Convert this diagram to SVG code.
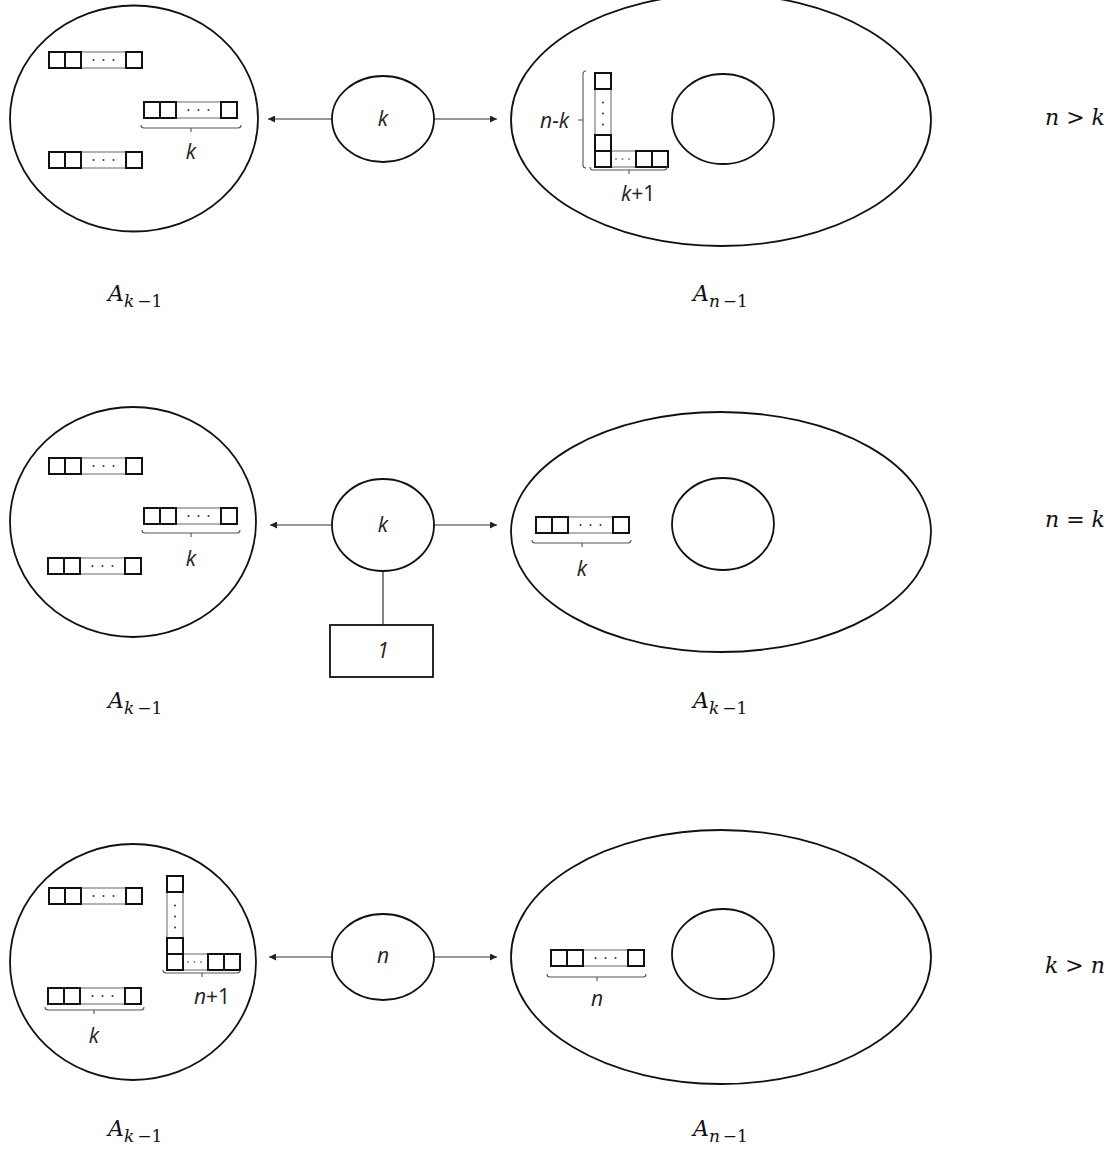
<svg xmlns="http://www.w3.org/2000/svg" xmlns:xlink="http://www.w3.org/1999/xlink" width="1120" height="1151" viewBox="0 0 1120 1151">
<style>
.big{fill:none;stroke:#111;stroke-width:1.8}
.sq{fill:none;stroke:#111;stroke-width:2}
.thin{fill:none;stroke:#666;stroke-width:1}
.dot{fill:#333}
.brace{fill:none;stroke:#555;stroke-width:1.1}
.conn{fill:none;stroke:#333;stroke-width:1.2}
.lbl{font-family:"Open Sans","DejaVu Sans",sans-serif;font-size:21px;fill:#222}
.it{font-style:italic}
.m{font-family:"DejaVu Serif","Liberation Serif",serif;font-size:22px;font-style:italic;fill:#111}
.up{font-style:normal}
</style>
<defs>
<marker id="ah" markerUnits="userSpaceOnUse" markerWidth="9" markerHeight="7" viewBox="0 0 10 10" refX="10" refY="5" orient="auto">
<path d="M0,0 L10,5 L0,10 z" fill="#222"/>
</marker>
<g id="bar">
<rect x="32" y="0" width="45" height="16" class="thin"/>
<rect x="0" y="0" width="16" height="16" class="sq"/>
<rect x="16" y="0" width="16" height="16" class="sq"/>
<rect x="77" y="0" width="16" height="16" class="sq"/>
<circle cx="44.5" cy="8" r="1" class="dot"/>
<circle cx="54.5" cy="8" r="1" class="dot"/>
<circle cx="64.5" cy="8" r="1" class="dot"/>
</g>
<g id="ell">
<rect x="0" y="16" width="16" height="46" class="thin"/>
<rect x="16" y="78" width="25" height="16" class="thin"/>
<rect x="0" y="0" width="16" height="16" class="sq"/>
<rect x="0" y="62" width="16" height="16" class="sq"/>
<rect x="0" y="78" width="16" height="16" class="sq"/>
<rect x="41" y="78" width="16" height="16" class="sq"/>
<rect x="57" y="78" width="16" height="16" class="sq"/>
<circle cx="8" cy="29.5" r="1" class="dot"/>
<circle cx="8" cy="40.5" r="1" class="dot"/>
<circle cx="8" cy="51.5" r="1" class="dot"/>
<circle cx="21" cy="86" r="0.8" class="dot"/>
<circle cx="27.5" cy="86" r="0.8" class="dot"/>
<circle cx="34" cy="86" r="0.8" class="dot"/>
</g>
</defs>

<g id="connectors">
<line x1="332" y1="119" x2="268" y2="119" class="conn" marker-end="url(#ah)"/>
<line x1="434" y1="119" x2="497" y2="119" class="conn" marker-end="url(#ah)"/>
<line x1="331" y1="525" x2="270" y2="525" class="conn" marker-end="url(#ah)"/>
<line x1="433" y1="525" x2="497" y2="525" class="conn" marker-end="url(#ah)"/>
<line x1="383" y1="571" x2="383" y2="625" class="conn"/>
<line x1="332" y1="957" x2="269" y2="957" class="conn" marker-end="url(#ah)"/>
<line x1="434" y1="957" x2="497" y2="957" class="conn" marker-end="url(#ah)"/>
</g>

<!-- Row 1 -->
<g id="r1-left">
<ellipse cx="134" cy="118.5" rx="124" ry="113" class="big"/>
<use xlink:href="#bar" x="49" y="52"/>
<use xlink:href="#bar" x="144" y="102"/>
<use xlink:href="#bar" x="49" y="152"/>
<path d="M141 125 q0 3 3 3 H238 q3 0 3 -3 M191 128 v4" class="brace"/>
<text x="191" y="159" class="lbl it" text-anchor="middle">k</text>
</g>
<g id="r1-node">
<ellipse cx="383" cy="119" rx="51" ry="43" class="big"/>
<text x="383" y="126" class="lbl it" text-anchor="middle">k</text>
</g>
<g id="r1-right">
<ellipse cx="721" cy="120" rx="210" ry="126" class="big"/>
<ellipse cx="723" cy="119" rx="51" ry="45" class="big"/>
<use xlink:href="#ell" x="595" y="73"/>
<path d="M586 71 q-3 0 -3 3 V165 q0 3 3 3 M583 120 h-5" class="brace"/>
<text x="569" y="128" class="lbl it" text-anchor="end">n-k</text>
<path d="M590 167 q0 3 3 3 H664 q3 0 3 -3 M629 170 v4" class="brace"/>
<text x="621" y="201" class="lbl"><tspan class="it">k</tspan>+1</text>
</g>
<text x="1045" y="125" class="m">n &gt; k</text>
<text x="108" y="301" class="m">A<tspan font-size="17" dy="6">k<tspan class="up" dx="3">−1</tspan></tspan></text>
<text x="693" y="301" class="m">A<tspan font-size="17" dy="6">n<tspan class="up" dx="3">−1</tspan></tspan></text>

<!-- Row 2 -->
<g id="r2-left">
<ellipse cx="133" cy="522" rx="123" ry="115" class="big"/>
<use xlink:href="#bar" x="49" y="458"/>
<use xlink:href="#bar" x="144" y="508"/>
<use xlink:href="#bar" x="48" y="558"/>
<path d="M142 530 q0 3 3 3 H237 q3 0 3 -3 M191 533 v4" class="brace"/>
<text x="191" y="566" class="lbl it" text-anchor="middle">k</text>
</g>
<g id="r2-node">
<ellipse cx="383" cy="525" rx="51" ry="46" class="big"/>
<text x="383" y="532" class="lbl it" text-anchor="middle">k</text>
</g>
<g id="r2-box">
<rect x="330" y="625" width="103" height="52" class="big"/>
<text x="383" y="658" class="lbl it" text-anchor="middle">1</text>
</g>
<g id="r2-right">
<ellipse cx="721" cy="532" rx="210" ry="120" class="big"/>
<ellipse cx="723" cy="524" rx="51" ry="46" class="big"/>
<use xlink:href="#bar" x="536" y="517"/>
<path d="M532 540 q0 3 3 3 H628 q3 0 3 -3 M582 543 v4" class="brace"/>
<text x="582" y="576" class="lbl it" text-anchor="middle">k</text>
</g>
<text x="1045" y="527" class="m">n = k</text>
<text x="108" y="708" class="m">A<tspan font-size="17" dy="6">k<tspan class="up" dx="3">−1</tspan></tspan></text>
<text x="693" y="708" class="m">A<tspan font-size="17" dy="6">k<tspan class="up" dx="3">−1</tspan></tspan></text>

<!-- Row 3 -->
<g id="r3-left">
<ellipse cx="133" cy="962" rx="123" ry="118" class="big"/>
<use xlink:href="#bar" x="49" y="888"/>
<use xlink:href="#ell" x="167" y="876"/>
<path d="M163 970 q0 3 3 3 H237 q3 0 3 -3 M202 973 v4" class="brace"/>
<text x="194" y="1004" class="lbl"><tspan class="it">n</tspan>+1</text>
<use xlink:href="#bar" x="48" y="988"/>
<path d="M45 1007 q0 3 3 3 H141 q3 0 3 -3 M94 1010 v4" class="brace"/>
<text x="94" y="1043" class="lbl it" text-anchor="middle">k</text>
</g>
<g id="r3-node">
<ellipse cx="383" cy="957" rx="51" ry="43" class="big"/>
<text x="383" y="963" class="lbl it" text-anchor="middle">n</text>
</g>
<g id="r3-right">
<ellipse cx="721" cy="957" rx="210" ry="127" class="big"/>
<ellipse cx="723" cy="954" rx="51" ry="45" class="big"/>
<use xlink:href="#bar" x="551" y="950"/>
<path d="M547 974 q0 3 3 3 H643 q3 0 3 -3 M597 977 v4" class="brace"/>
<text x="597" y="1006" class="lbl it" text-anchor="middle">n</text>
</g>
<text x="1045" y="973" class="m">k &gt; n</text>
<text x="108" y="1136" class="m">A<tspan font-size="17" dy="6">k<tspan class="up" dx="3">−1</tspan></tspan></text>
<text x="693" y="1136" class="m">A<tspan font-size="17" dy="6">n<tspan class="up" dx="3">−1</tspan></tspan></text>
</svg>
